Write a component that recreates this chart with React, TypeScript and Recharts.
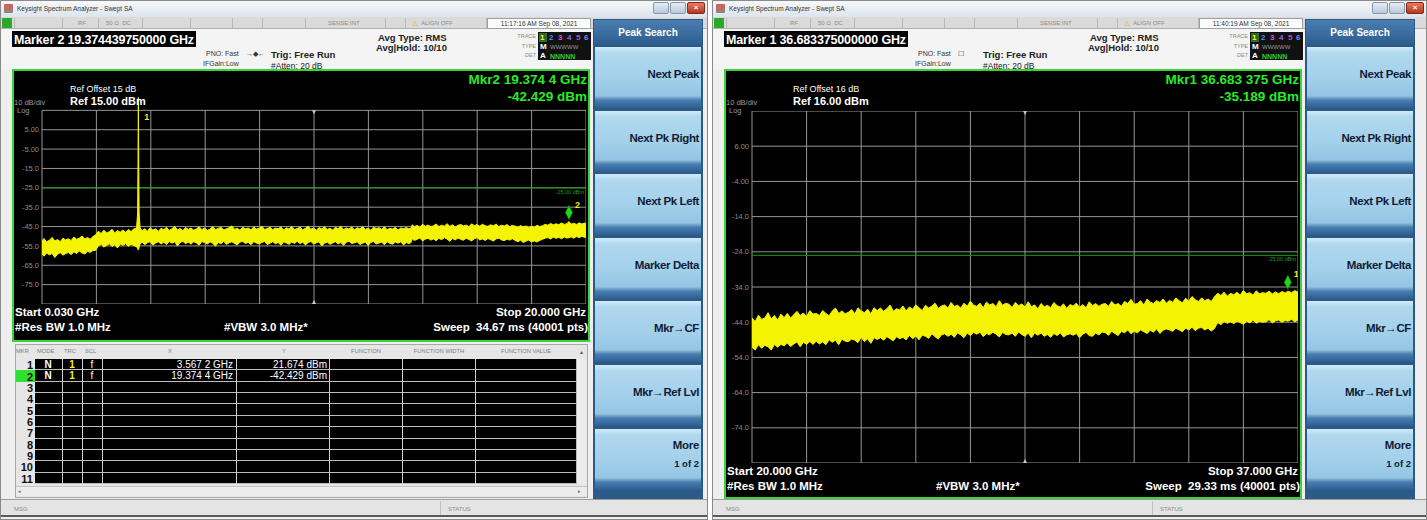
import React from "react";
import { ComposedChart, Area, XAxis, YAxis, ReferenceLine, ReferenceDot } from "recharts";

const FONT = "'Liberation Sans', Arial, sans-serif";

// ---- capture 1 : 0.030 - 20.000 GHz, ref 15 dBm ----
const L_FREQ = [
  0.03, 0.1, 0.2, 0.3, 0.4, 0.5, 0.6, 0.7, 0.8, 0.9,
  1.0, 1.1, 1.2, 1.3, 1.4, 1.5, 1.6, 1.7, 1.8, 1.9,
  2.0, 2.1, 2.2, 2.3, 2.4, 2.5, 2.6, 2.7, 2.8, 2.9,
  3.0, 3.1, 3.2, 3.3, 3.4, 3.5, 3.54, 3.555, 3.567, 3.58,
  3.595, 3.63, 3.7, 3.8, 3.9, 4.0, 4.1, 4.2, 4.3, 4.4,
  4.5, 4.6, 4.7, 4.8, 4.9, 5.0, 5.1, 5.2, 5.3, 5.4,
  5.5, 5.6, 5.7, 5.8, 5.9, 6.0, 6.1, 6.2, 6.3, 6.4,
  6.5, 6.6, 6.7, 6.8, 6.9, 7.0, 7.1, 7.2, 7.3, 7.4,
  7.5, 7.6, 7.7, 7.8, 7.9, 8.0, 8.1, 8.2, 8.3, 8.4,
  8.5, 8.6, 8.7, 8.8, 8.9, 9.0, 9.1, 9.2, 9.3, 9.4,
  9.5, 9.6, 9.7, 9.8, 9.9, 10.0, 10.1, 10.2, 10.3, 10.4,
  10.5, 10.6, 10.7, 10.8, 10.9, 11.0, 11.1, 11.2, 11.3, 11.4,
  11.5, 11.6, 11.7, 11.8, 11.9, 12.0, 12.1, 12.2, 12.3, 12.4,
  12.5, 12.6, 12.7, 12.8, 12.9, 13.0, 13.1, 13.2, 13.3, 13.4,
  13.5, 13.58, 13.62, 13.7, 13.8, 13.9, 14.0, 14.1, 14.2, 14.3,
  14.4, 14.5, 14.6, 14.7, 14.8, 14.9, 15.0, 15.1, 15.2, 15.3,
  15.4, 15.5, 15.6, 15.7, 15.8, 15.9, 16.0, 16.1, 16.2, 16.3,
  16.4, 16.5, 16.6, 16.7, 16.8, 16.9, 17.0, 17.1, 17.2, 17.3,
  17.4, 17.5, 17.6, 17.7, 17.8, 17.9, 18.0, 18.1, 18.2, 18.3,
  18.4, 18.5, 18.6, 18.7, 18.8, 18.9, 19.0, 19.1, 19.2, 19.3,
  19.374, 19.45, 19.55, 19.65, 19.75, 19.85, 19.95, 20.0,
];
const L_HI = [
  -52.4, -51.2, -52.9, -52.1, -50.6, -52.5, -51.7, -52.8, -51.0, -51.9,
  -51.3, -52.2, -50.4, -51.6, -51.0, -49.9, -51.4, -50.7, -51.5, -50.2,
  -49.2, -47.4, -48.6, -46.9, -48.2, -47.7, -46.4, -48.3, -47.1, -47.9,
  -46.8, -48.0, -46.5, -47.6, -46.2, -46.0, -38.0, -10.0, 21.674, -10.0,
  -38.0, -45.5, -47.2, -46.1, -47.4, -45.6, -46.8, -46.2, -47.5, -45.9,
  -46.6, -45.4, -47.0, -46.1, -44.9, -46.7, -46.0, -47.1, -45.5, -46.4,
  -45.8, -46.9, -46.2, -45.1, -46.6, -45.7, -47.0, -46.3, -45.0, -46.5,
  -46.0, -45.3, -46.8, -46.1, -45.6, -44.7, -46.4, -45.9, -46.9, -45.4,
  -46.2, -45.7, -46.7, -45.2, -46.3, -45.9, -44.8, -46.5, -46.0, -45.4,
  -46.6, -45.8, -46.1, -45.2, -46.8, -45.6, -46.3, -45.0, -46.5, -46.0,
  -45.3, -46.7, -45.9, -44.9, -46.4, -45.7, -46.9, -45.5, -46.2, -45.1,
  -46.5, -45.9, -46.8, -45.4, -46.1, -44.8, -46.6, -45.7, -46.3, -45.2,
  -46.7, -45.6, -46.2, -45.0, -46.5, -45.8, -46.9, -45.3, -46.0, -45.6,
  -46.4, -45.1, -46.6, -45.9, -46.3, -45.4, -46.8, -45.7, -46.1, -45.5,
  -46.2, -45.8, -44.1, -45.0, -44.4, -45.3, -43.8, -44.9, -44.2, -45.1,
  -44.6, -43.7, -45.0, -44.3, -44.8, -43.5, -44.9, -44.1, -45.2, -44.4,
  -43.9, -44.7, -44.2, -45.1, -43.6, -44.5, -44.0, -44.8, -43.8, -44.6,
  -44.9, -44.1, -44.6, -43.7, -45.0, -44.3, -44.7, -44.0, -45.1, -44.4,
  -44.8, -45.4, -44.5, -45.2, -44.7, -45.6, -44.9, -45.3, -44.4, -45.0,
  -44.6, -43.9, -44.3, -43.4, -44.1, -43.6, -44.0, -43.2, -43.9, -43.5,
  -42.429, -43.8, -43.3, -43.9, -43.1, -43.7, -43.2, -43.6,
];
const L_LO = [
  -59.2, -60.3, -58.7, -59.6, -58.9, -61.0, -59.3, -58.5, -59.8, -58.9,
  -58.4, -59.5, -58.1, -58.9, -57.6, -58.7, -59.2, -57.9, -58.3, -57.4,
  -57.3, -55.0, -54.2, -55.6, -54.8, -53.9, -55.3, -54.4, -56.1, -54.0,
  -54.7, -53.8, -55.2, -54.1, -54.9, -55.3, -56.5, -57.0, -57.0, -56.5,
  -55.5, -54.2, -53.0, -54.4, -53.3, -52.8, -54.6, -53.5, -52.9, -54.0,
  -53.1, -54.3, -52.7, -53.6, -52.9, -55.0, -53.2, -52.6, -53.9, -53.0,
  -54.1, -52.8, -53.5, -54.6, -52.7, -53.3, -54.0, -52.9, -53.7, -55.1,
  -53.2, -53.9, -52.6, -54.2, -53.4, -52.9, -53.7, -54.5, -53.0, -52.7,
  -53.8, -53.1, -54.4, -52.8, -53.5, -54.0, -53.2, -52.7, -54.3, -53.6,
  -52.8, -53.9, -53.3, -54.6, -52.9, -53.5, -54.2, -53.0, -53.7, -52.6,
  -53.8, -53.1, -54.5, -53.3, -52.7, -54.0, -53.4, -52.9, -55.0, -53.6,
  -53.0, -54.2, -53.5, -52.8, -53.9, -53.3, -54.7, -53.1, -52.6, -53.8,
  -53.4, -52.9, -54.3, -53.6, -53.0, -54.8, -53.2, -52.7, -54.0, -53.5,
  -53.1, -54.4, -52.8, -53.7, -54.1, -53.0, -53.6, -52.9, -54.5, -53.3,
  -53.8, -53.2, -51.3, -52.2, -51.6, -50.9, -52.4, -51.5, -51.0, -52.0,
  -51.4, -52.3, -51.1, -51.8, -50.7, -51.5, -52.6, -51.2, -51.9, -50.9,
  -51.6, -52.1, -51.0, -51.7, -52.4, -51.3, -50.8, -51.9, -51.4, -52.2,
  -51.2, -51.8, -52.5, -51.4, -51.0, -51.9, -52.3, -51.5, -52.0, -51.3,
  -52.2, -52.8, -52.1, -53.3, -52.5, -52.0, -52.9, -52.4, -53.0, -52.2,
  -51.6, -51.0, -50.7, -51.4, -50.5, -51.1, -50.6, -51.3, -50.4, -50.9,
  -50.8, -50.3, -51.0, -50.2, -50.7, -50.1, -50.6, -50.4,
];
const L_XGRID = [0.03, 2.027, 4.024, 6.021, 8.018, 10.015, 12.012, 14.009, 16.006, 18.003, 20.0];
const L_YGRID = [15, 5, -5, -15, -25, -35, -45, -55, -65, -75, -85];
const L_YTICKS = [5, -5, -15, -25, -35, -45, -55, -65, -75];
const L_YLABELS = ["5.00", "-5.00", "-15.0", "-25.0", "-35.0", "-45.0", "-55.0", "-65.0", "-75.0"];
const L_MARKERS = [
  { n: 1, f: 3.5672, v: 21.674 },
  { n: 2, f: 19.3744, v: -42.429 },
];

// ---- capture 2 : 20.000 - 37.000 GHz, ref 16 dBm ----
const R_FREQ = [
  20.0, 20.1, 20.2, 20.3, 20.4, 20.5, 20.6, 20.7, 20.8, 20.9,
  21.0, 21.1, 21.2, 21.3, 21.4, 21.5, 21.6, 21.7, 21.8, 21.9,
  22.0, 22.1, 22.2, 22.3, 22.4, 22.5, 22.6, 22.7, 22.8, 22.9,
  23.0, 23.1, 23.2, 23.3, 23.4, 23.5, 23.6, 23.7, 23.8, 23.9,
  24.0, 24.1, 24.2, 24.3, 24.4, 24.5, 24.6, 24.7, 24.8, 24.9,
  25.0, 25.1, 25.2, 25.3, 25.4, 25.5, 25.6, 25.7, 25.8, 25.9,
  26.0, 26.1, 26.2, 26.3, 26.4, 26.5, 26.6, 26.7, 26.8, 26.9,
  27.0, 27.1, 27.2, 27.3, 27.4, 27.5, 27.6, 27.7, 27.8, 27.9,
  28.0, 28.1, 28.2, 28.3, 28.4, 28.5, 28.6, 28.7, 28.8, 28.9,
  29.0, 29.1, 29.2, 29.3, 29.4, 29.5, 29.6, 29.7, 29.8, 29.9,
  30.0, 30.1, 30.2, 30.3, 30.4, 30.5, 30.6, 30.7, 30.8, 30.9,
  31.0, 31.1, 31.2, 31.3, 31.4, 31.5, 31.6, 31.7, 31.8, 31.9,
  32.0, 32.1, 32.2, 32.3, 32.4, 32.5, 32.6, 32.7, 32.8, 32.9,
  33.0, 33.1, 33.2, 33.3, 33.4, 33.5, 33.6, 33.7, 33.8, 33.9,
  34.0, 34.1, 34.2, 34.3, 34.4, 34.5, 34.6, 34.7, 34.8, 34.9,
  35.0, 35.1, 35.2, 35.3, 35.4, 35.5, 35.6, 35.7, 35.8, 35.9,
  36.0, 36.1, 36.2, 36.3, 36.4, 36.5, 36.6, 36.683, 36.8, 36.9, 37.0,
];
const R_HI = [
  -42.8, -43.8, -42.0, -43.2, -42.8, -41.3, -43.1, -42.1, -43.4, -41.7,
  -42.7, -41.5, -42.8, -41.9, -40.9, -42.1, -41.4, -42.4, -40.7, -41.7,
  -41.5, -42.1, -40.7, -41.5, -42.2, -40.8, -40.0, -41.5, -40.8, -41.6,
  -41.2, -40.4, -41.6, -39.9, -40.8, -41.3, -40.3, -41.6, -39.9, -40.7,
  -40.0, -40.9, -40.2, -39.1, -40.9, -40.2, -40.5, -39.4, -40.8, -39.7,
  -40.3, -39.1, -39.9, -40.7, -39.2, -40.0, -39.4, -38.6, -40.1, -39.4,
  -39.1, -40.0, -38.4, -39.5, -39.2, -40.0, -38.6, -39.5, -38.0, -39.2,
  -39.5, -38.6, -39.9, -38.3, -39.1, -38.7, -39.6, -37.9, -39.2, -38.6,
  -38.9, -39.8, -38.4, -39.3, -38.8, -39.7, -38.2, -39.6, -39.1, -40.2,
  -38.7, -39.6, -39.2, -39.9, -38.4, -39.3, -39.7, -38.8, -40.1, -39.0,
  -39.4, -38.6, -39.8, -39.0, -39.9, -38.2, -39.3, -38.7, -39.5, -38.9,
  -38.7, -39.5, -38.1, -39.1, -38.7, -39.5, -38.1, -38.7, -37.5, -38.9,
  -38.7, -37.9, -39.1, -37.4, -38.3, -38.7, -37.9, -38.4, -37.4, -38.6,
  -37.8, -38.3, -37.1, -37.9, -38.5, -37.2, -38.0, -36.7, -37.6, -38.1,
  -37.1, -37.9, -37.4, -38.1, -36.8, -35.8, -36.4, -35.5, -36.6, -35.8,
  -36.2, -35.5, -36.3, -35.0, -35.9, -35.6, -36.3, -35.1, -35.9, -35.6,
  -35.8, -35.2, -36.0, -35.4, -35.9, -35.3, -35.7, -35.189, -35.6, -35.0, -35.5,
];
const R_LO = [
  -51.1, -51.9, -50.4, -51.4, -50.6, -51.0, -51.9, -50.3, -51.1, -50.3,
  -50.7, -49.9, -50.9, -50.2, -49.6, -51.0, -49.7, -50.3, -49.5, -50.3,
  -49.4, -50.2, -49.6, -50.4, -49.0, -49.7, -49.1, -50.4, -48.8, -49.4,
  -49.5, -48.8, -49.1, -49.8, -48.3, -49.5, -48.7, -50.0, -48.4, -48.9,
  -48.4, -49.1, -48.1, -48.7, -49.3, -48.1, -48.7, -48.3, -49.0, -47.7,
  -48.7, -47.9, -49.0, -47.7, -48.0, -48.6, -47.3, -48.1, -48.8, -47.6,
  -47.3, -48.0, -47.4, -48.3, -47.0, -47.6, -48.4, -47.1, -47.8, -46.9,
  -47.4, -46.8, -48.1, -47.2, -47.6, -46.8, -47.4, -48.2, -46.9, -47.5,
  -47.6, -47.1, -48.0, -46.8, -47.5, -48.0, -47.1, -48.4, -47.1, -47.7,
  -47.1, -48.0, -47.5, -48.3, -47.2, -47.8, -47.0, -48.2, -47.6, -47.3,
  -47.7, -47.2, -48.4, -47.4, -46.9, -47.8, -48.0, -47.1, -47.6, -46.8,
  -47.0, -47.7, -46.6, -47.2, -47.8, -46.6, -47.0, -46.2, -47.3, -46.6,
  -47.0, -46.2, -46.7, -47.2, -46.3, -46.8, -45.9, -47.2, -46.3, -45.9,
  -46.2, -46.6, -45.7, -46.2, -46.7, -45.7, -46.2, -45.4, -46.4, -45.7,
  -45.5, -46.2, -45.7, -46.5, -45.8, -44.1, -44.7, -43.8, -44.3, -43.9,
  -44.4, -43.7, -44.1, -44.6, -43.7, -44.2, -43.4, -44.3, -43.8, -44.0,
  -43.9, -43.3, -44.2, -43.6, -43.4, -44.0, -43.5, -43.7, -43.2, -43.9, -43.4,
];
const R_XGRID = [20, 21.7, 23.4, 25.1, 26.8, 28.5, 30.2, 31.9, 33.6, 35.3, 37];
const R_YGRID = [16, 6, -4, -14, -24, -34, -44, -54, -64, -74, -84];
const R_YTICKS = [6, -4, -14, -24, -34, -44, -54, -64, -74];
const R_YLABELS = ["6.00", "-4.00", "-14.0", "-24.0", "-34.0", "-44.0", "-54.0", "-64.0", "-74.0"];
const R_MARKERS = [{ n: 1, f: 36.683375, v: -35.189 }];

const LIMIT_DBM = -25;

const SOFTKEYS = ["Next Peak", "Next Pk Right", "Next Pk Left", "Marker Delta", "Mkr\u2192CF", "Mkr\u2192Ref Lvl"];
const TABLE_NUMS = ["1", "2", "3", "4", "5", "6", "7", "8", "9", "10", "11"];
const TABLE_X = ["3.567 2 GHz", "19.374 4 GHz"];
const TABLE_Y = ["21.674 dBm", "-42.429 dBm"];

const abs = (x: number, y: number, w: number, h: number): React.CSSProperties => ({
  position: "absolute", left: x, top: y, width: w, height: h, boxSizing: "border-box",
});

function Txt({ x, y, s = 9, c = "#000", b = false, a = "start", ls = 0, children }: any) {
  const base: React.CSSProperties = {
    position: "absolute", top: y, fontSize: s, color: c, fontWeight: b ? 700 : 400,
    whiteSpace: "pre", lineHeight: 1, transform: "translateY(-50%)", letterSpacing: ls,
  };
  if (a === "end") return <div style={{ ...base, left: x - 400, width: 400, textAlign: "right" }}>{children}</div>;
  if (a === "middle") return <div style={{ ...base, left: x - 200, width: 400, textAlign: "center" }}>{children}</div>;
  return <div style={{ ...base, left: x }}>{children}</div>;
}

function MarkerGlyph({ cx, cy, n, clipped }: any) {
  if (cx == null || cy == null) return null;
  if (clipped) {
    return (
      <text x={cx + 6} y={cy + 10} fill="#e6e62e" fontSize={9} fontWeight={700} fontFamily={FONT}>{n}</text>
    );
  }
  return (
    <g>
      <path d={`M${cx},${cy - 2} L${cx + 3.5},${cy - 9} L${cx},${cy - 16} L${cx - 3.5},${cy - 9} Z`} fill="#1ed81e" stroke="#0c8c0c" strokeWidth={0.6} />
      <text x={cx + 6} y={cy - 14} fill="#e6e62e" fontSize={9} fontWeight={700} fontFamily={FONT}>{n}</text>
    </g>
  );
}

function Spectrum({ freq, hi, lo, xGrid, yGrid, yTicks, yLabels, yDomain, markers, left, top, width, height, axisW }: any) {
  const data = freq.map((f: number, i: number) => ({ f, band: [lo[i], hi[i]] }));
  const refTop = yGrid[0];
  const floor = yGrid[yGrid.length - 1];
  const center = xGrid[5];
  const grid = "#959595";
  return (
    <div style={{ position: "absolute", left, top, width, height }}>
      <ComposedChart width={width} height={height} data={data} margin={{ top: 0, right: 0, bottom: 0, left: 0 }}>
        <XAxis dataKey="f" type="number" domain={[xGrid[0], xGrid[xGrid.length - 1]]} allowDataOverflow hide />
        <YAxis
          type="number"
          domain={yDomain}
          allowDataOverflow
          width={axisW}
          ticks={yTicks}
          interval={0}
          tickFormatter={(v: number) => yLabels[yTicks.indexOf(v)]}
          tick={{ fill: "#8c8c8c", fontSize: 7.5, fontFamily: FONT }}
          tickSize={0}
          tickMargin={3}
          axisLine={false}
          tickLine={false}
        />
        {yGrid.map((v: number) => (
          <ReferenceLine key={"h" + v} y={v} stroke={grid} strokeWidth={1} ifOverflow="visible" zIndex={-100} />
        ))}
        {xGrid.map((f: number) => (
          <ReferenceLine key={"v" + f} segment={[{ x: f, y: floor }, { x: f, y: refTop }]} stroke={grid} strokeWidth={1} ifOverflow="visible" zIndex={-100} />
        ))}
        <ReferenceLine
          y={LIMIT_DBM}
          stroke="#11a011"
          strokeWidth={1}
          ifOverflow="visible"
          zIndex={-90}
          label={{ value: "-25.00 dBm", position: "insideTopRight", fill: "#1aa51a", fontSize: 5.5, offset: 2 }}
        />
        <Area
          type="linear"
          dataKey="band"
          stroke="#f4f400"
          strokeWidth={1}
          fill="#f4f400"
          fillOpacity={1}
          dot={false}
          activeDot={false}
          isAnimationActive={false}
        />
        <ReferenceDot x={center} y={refTop} ifOverflow="visible" zIndex={700}
          shape={(p: any) => <path d={`M${p.cx - 2},${p.cy} L${p.cx + 2},${p.cy} L${p.cx},${p.cy + 4} Z`} fill="#c8c8c8" />} />
        <ReferenceDot x={center} y={floor} ifOverflow="visible" zIndex={700}
          shape={(p: any) => <path d={`M${p.cx - 2},${p.cy} L${p.cx + 2},${p.cy} L${p.cx},${p.cy - 4} Z`} fill="#c8c8c8" />} />
        {markers.map((m: any) => {
          const clipped = m.v > refTop;
          return (
            <ReferenceDot key={m.n} x={m.f} y={clipped ? refTop : m.v} ifOverflow="visible" zIndex={800}
              shape={(p: any) => <MarkerGlyph cx={p.cx} cy={p.cy} n={m.n} clipped={clipped} />} />
          );
        })}
      </ComposedChart>
    </div>
  );
}

const BTN_BG = "linear-gradient(to bottom, #d3ebf7 0%, #b0d8ee 10%, #a1cfea 55%, #93c4e3 80%, #4a7eb0 87%, #2c5e91 100%)";

function SoftKeys() {
  return (
    <div style={{ ...abs(593, 19, 110, 480), background: "#2b5a89" }}>
      <div style={{ ...abs(1, 1, 108, 25), background: "linear-gradient(#4a7db0, #2d5d8f)" }} />
      <Txt x={55} y={14} s={10} c="#fff" b a="middle">Peak Search</Txt>
      {[...SOFTKEYS, "More"].map((k, i) => (
        <div key={k} style={{ ...abs(2, 28 + i * 63.6, 106, 61), background: BTN_BG }}>
          {k === "More" ? (
            <>
              <Txt x={104} y={17} s={11.5} c="#101c36" b a="end" ls={-0.3}>More</Txt>
              <Txt x={104} y={35} s={9.5} c="#101c36" b a="end">1 of 2</Txt>
            </>
          ) : (
            <Txt x={104} y={28} s={11.5} c="#101c36" b a="end" ls={-0.4}>{k}</Txt>
          )}
        </div>
      ))}
    </div>
  );
}

function MarkerTable() {
  const top = 359;
  const rh = 11.36;
  const cols = [62, 82, 102, 236, 329, 402, 475];
  return (
    <>
      <div style={{ ...abs(15, 344, 573, 154), background: "#e6e6e6", border: "1px solid #a8a8a8" }} />
      <Txt x={16} y={352} s={5.8} c="#7d7d7d">MKR</Txt>
      <Txt x={37} y={352} s={5.8} c="#7d7d7d">MODE</Txt>
      <Txt x={64} y={352} s={5.8} c="#7d7d7d">TRC</Txt>
      <Txt x={85} y={352} s={5.8} c="#7d7d7d">SCL</Txt>
      <Txt x={170} y={352} s={5.8} c="#7d7d7d" a="middle">X</Txt>
      <Txt x={284} y={352} s={5.8} c="#7d7d7d" a="middle">Y</Txt>
      <Txt x={366} y={352} s={5.8} c="#7d7d7d" a="middle">FUNCTION</Txt>
      <Txt x={439} y={352} s={5.8} c="#7d7d7d" a="middle">FUNCTION WIDTH</Txt>
      <Txt x={526} y={352} s={5.8} c="#7d7d7d" a="middle">FUNCTION VALUE</Txt>
      <div style={{ ...abs(35, top, 541, rh * 11), background: "#000" }} />
      {TABLE_NUMS.map((n, i) => (
        <React.Fragment key={n}>
          {i === 1 && <div style={{ ...abs(16, top + i * rh, 19, rh), background: "#2fe02f" }} />}
          <div style={{ ...abs(35, top + (i + 1) * rh - 1, 541, 1), background: "#bdbdbd" }} />
          <Txt x={33} y={top + i * rh + rh / 2 + 0.5} s={11} c="#111" b a="end">{n}</Txt>
        </React.Fragment>
      ))}
      {cols.map((x) => (
        <div key={x} style={{ ...abs(x, top, 1, rh * 11), background: "#cfcfcf" }} />
      ))}
      {TABLE_X.map((xv, i) => (
        <React.Fragment key={xv}>
          <Txt x={48} y={top + i * rh + rh / 2} s={10} c="#fff" b a="middle">N</Txt>
          <Txt x={72} y={top + i * rh + rh / 2} s={10} c="#f0f020" b a="middle">1</Txt>
          <Txt x={92} y={top + i * rh + rh / 2} s={10} c="#fff" a="middle">f</Txt>
          <Txt x={233} y={top + i * rh + rh / 2} s={10} c="#fff" a="end">{xv}</Txt>
          <Txt x={327} y={top + i * rh + rh / 2} s={10} c="#fff" a="end">{TABLE_Y[i]}</Txt>
        </React.Fragment>
      ))}
      <div style={{ ...abs(576, top, 10, rh * 11), background: "#ececec", borderLeft: "1px solid #bbb" }} />
      <Txt x={579} y={352} s={5} c="#555">{"\u25B2"}</Txt>
      <div style={{ ...abs(16, 486, 571, 10), background: "#ececec", borderTop: "1px solid #c4c4c4" }} />
      <Txt x={18} y={491} s={5} c="#666">{"\u25C2"}</Txt>
      <Txt x={578} y={491} s={5} c="#666">{"\u25B8"}</Txt>
    </>
  );
}

const LEFT = {
  ox: 0, w: 708,
  time: "11:17:16 AM Sep 08, 2021",
  marker: "Marker 2 19.374439750000 GHz",
  mkr: "Mkr2 19.374 4 GHz", mkrVal: "-42.429 dBm",
  refOffset: "Ref Offset 15 dB", ref: "Ref 15.00 dBm", refX: 70,
  start: "Start 0.030 GHz", stop: "Stop 20.000 GHz", sweep: "Sweep  34.67 ms (40001 pts)",
  panelH: 273, gratBottom: 304, table: true,
  plot: { freq: L_FREQ, hi: L_HI, lo: L_LO, xGrid: L_XGRID, yGrid: L_YGRID, yTicks: L_YTICKS, yLabels: L_YLABELS, yDomain: [-85, 25], markers: L_MARKERS, left: 12, top: 91, width: 574, height: 213, axisW: 30 },
};

const RIGHT = {
  ox: 712, w: 715,
  time: "11:40:19 AM Sep 08, 2021",
  marker: "Marker 1 36.683375000000 GHz",
  mkr: "Mkr1 36.683 375 GHz", mkrVal: "-35.189 dBm",
  refOffset: "Ref Offset 16 dB", ref: "Ref 16.00 dBm", refX: 81,
  start: "Start 20.000 GHz", stop: "Stop 37.000 GHz", sweep: "Sweep  29.33 ms (40001 pts)",
  panelH: 430, gratBottom: 463, table: false,
  plot: { freq: R_FREQ, hi: R_HI, lo: R_LO, xGrid: R_XGRID, yGrid: R_YGRID, yTicks: R_YTICKS, yLabels: R_YLABELS, yDomain: [-84, 16], markers: R_MARKERS, left: 12, top: 111, width: 574, height: 352, axisW: 28 },
};

function Window({ c }: any) {
  const W = c.w;
  const gb = c.gratBottom;
  const seps = [14, 62, 98, 142, 190, 232, 262, 305, 385, 405, 486];
  return (
    <div style={{ position: "absolute", left: c.ox, top: 0, width: W, height: 520, background: "#efefef", overflow: "hidden", fontFamily: FONT, boxShadow: "inset 0 0 0 1px #8a8a8a" }}>
      {/* title bar */}
      <div style={{ ...abs(1, 1, W - 2, 16), background: "linear-gradient(#f6f8fb, #dde4ed)" }} />
      <div style={{ ...abs(4, 4, 9, 9), background: "linear-gradient(#e05a4a, #888)", borderRadius: 1 }} />
      <Txt x={17} y={9} s={6.5} c="#333">Keysight Spectrum Analyzer - Swept SA</Txt>
      <div style={{ ...abs(W - 55, 2, 16, 12), background: "linear-gradient(#e6edf6, #b9c8da)", border: "1px solid #8797ad", borderRadius: 2 }} />
      <div style={{ ...abs(W - 38, 2, 16, 12), background: "linear-gradient(#e6edf6, #b9c8da)", border: "1px solid #8797ad", borderRadius: 2 }} />
      <div style={{ ...abs(W - 21, 2, 18, 12), background: "linear-gradient(#e77a62, #b8361f)", border: "1px solid #7d2a1a", borderRadius: 2 }} />
      <Txt x={W - 12} y={8} s={8} c="#fff" b a="middle">{"\u00D7"}</Txt>

      {/* status row */}
      <div style={{ ...abs(1, 17, W - 2, 12), background: "#dadada", borderBottom: "1px solid #b0b0b0" }} />
      <div style={{ ...abs(2, 18, 10, 10), background: "#2aa82a" }} />
      {seps.map((x) => (
        <div key={x} style={{ ...abs(x, 18, 1, 10), background: "#b8b8b8" }} />
      ))}
      <Txt x={78} y={23} s={6} c="#8a8a8a">RF</Txt>
      <Txt x={106} y={23} s={6} c="#8a8a8a">{"50 \u03A9  DC"}</Txt>
      <Txt x={328} y={23} s={6} c="#8a8a8a">SENSE:INT</Txt>
      <Txt x={412} y={23} s={7} c="#d8a800">{"\u26A0"}</Txt>
      <Txt x={421} y={23} s={6} c="#8a8a8a">ALIGN OFF</Txt>
      <div style={{ ...abs(487, 18, 104, 11), background: "#fbfbfb", border: "1px solid #a0a0a0" }} />
      <Txt x={539} y={23.5} s={6.5} c="#333" a="middle">{c.time}</Txt>

      {/* header */}
      <div style={{ ...abs(1, 29, 591, 40), background: "#f4f4f4" }} />
      <div style={{ ...abs(12, 31, 184, 16), background: "#000" }} />
      <Txt x={14} y={39.5} s={12.5} c="#fff" b ls={-0.15}>{c.marker}</Txt>
      <Txt x={206} y={53} s={7} c="#333">PNO: Fast</Txt>
      <Txt x={203} y={63} s={7} c="#333">IFGain:Low</Txt>
      <Txt x={246} y={53} s={7} c="#333">{c.ox === 0 ? "\u2192\u25C6\u2190" : "\u2610"}</Txt>
      <Txt x={271} y={55} s={9.5} c="#222" b>Trig: Free Run</Txt>
      <Txt x={271} y={66} s={8.5} c="#222">#Atten: 20 dB</Txt>
      <Txt x={378} y={38} s={9.5} c="#222" b>Avg Type: RMS</Txt>
      <Txt x={376} y={48} s={9.5} c="#222" b>Avg|Hold: 10/10</Txt>
      <Txt x={536} y={37} s={5.5} c="#888" a="end">TRACE</Txt>
      <Txt x={536} y={47} s={5.5} c="#888" a="end">TYPE</Txt>
      <Txt x={536} y={56} s={5.5} c="#888" a="end">DET</Txt>
      <div style={{ ...abs(538, 32, 53, 28), background: "#111" }} />
      <div style={{ ...abs(539, 33, 8, 9), background: "#2c6a2c" }} />
      <Txt x={540} y={38} s={8} c="#f4f420" b>1</Txt>
      <Txt x={549} y={38} s={8} c="#3f8cff" b>2</Txt>
      <Txt x={558} y={38} s={8} c="#e050e0" b>3</Txt>
      <Txt x={567} y={38} s={8} c="#8a6aff" b>4</Txt>
      <Txt x={576} y={38} s={8} c="#b050c0" b>5</Txt>
      <Txt x={584} y={38} s={8} c="#7090ff" b>6</Txt>
      <Txt x={540} y={47} s={8} c="#fff" b>M</Txt>
      <Txt x={550} y={47} s={6} c="#9a9a9a">WWWWW</Txt>
      <Txt x={540} y={56} s={8} c="#fff" b>A</Txt>
      <Txt x={550} y={56} s={7} c="#2cd02c" b>NNNNN</Txt>

      {/* plot panel */}
      <div style={{ ...abs(12, 69, 578, c.panelH), background: "#000", border: "2px solid #38d438" }} />
      <Spectrum {...c.plot} />
      <Txt x={14} y={103} s={7.5} c="#9a9a9a">10 dB/div</Txt>
      <Txt x={17} y={111} s={7.5} c="#9a9a9a">Log</Txt>
      <Txt x={c.refX} y={89} s={9} c="#fff">{c.refOffset}</Txt>
      <Txt x={c.refX} y={101} s={11} c="#fff" b>{c.ref}</Txt>
      <Txt x={587} y={80} s={13.5} c="#2aea2a" b a="end">{c.mkr}</Txt>
      <Txt x={587} y={97} s={13.5} c="#2aea2a" b a="end">{c.mkrVal}</Txt>
      <Txt x={15} y={gb + 9} s={11.5} c="#fff" b>{c.start}</Txt>
      <Txt x={15} y={gb + 24} s={11.5} c="#fff" b>#Res BW 1.0 MHz</Txt>
      <Txt x={224} y={gb + 24} s={11.5} c="#fff" b>#VBW 3.0 MHz*</Txt>
      <Txt x={586} y={gb + 9} s={11.5} c="#fff" b a="end">{c.stop}</Txt>
      <Txt x={588} y={gb + 24} s={11.5} c="#fff" b a="end">{c.sweep}</Txt>

      {c.table && <MarkerTable />}

      <SoftKeys />

      {/* message bar */}
      <div style={{ ...abs(1, 499, W - 2, 18), background: "#e4e4e4", borderTop: "1px solid #9c9c9c", borderBottom: "2px solid #5a5a5a" }} />
      <div style={{ ...abs(440, 501, 1, 14), background: "#c0c0c0" }} />
      <Txt x={14} y={509} s={6} c="#8a8a8a">MSG</Txt>
      <Txt x={448} y={509} s={6} c="#8a8a8a">STATUS</Txt>
    </div>
  );
}

export default function App() {
  return (
    <div style={{ position: "absolute", left: 0, top: 0, width: 1427, height: 520, background: "#fff", overflow: "hidden" }}>
      <Window c={LEFT} />
      <Window c={RIGHT} />
    </div>
  );
}
